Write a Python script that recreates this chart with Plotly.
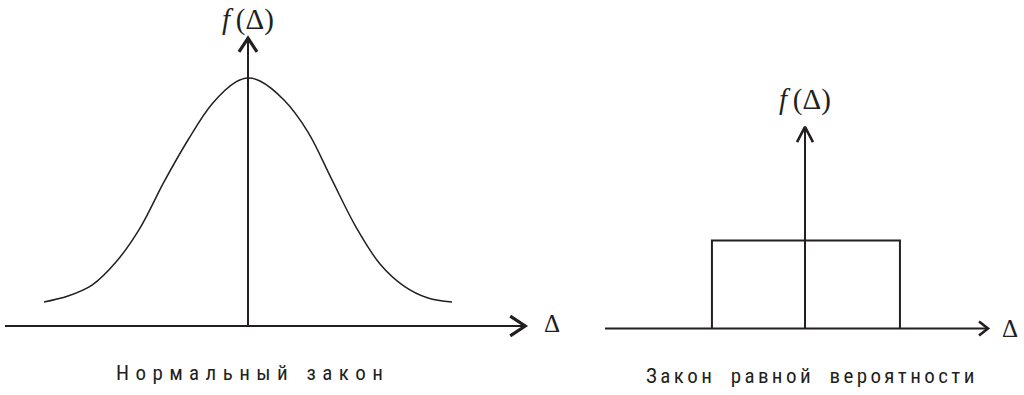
import plotly.graph_objects as go

# ---- data ----
# Left: normal law curve, Δ (arbitrary units) vs f(Δ) (peak = 1)
normal_delta = [-3.4, -3.0, -2.6, -2.2, -1.8, -1.4, -1.0, -0.6, -0.2, 0.0,
                0.2, 0.6, 1.0, 1.4, 1.8, 2.2, 2.6, 3.0, 3.4]
normal_f = [0.097, 0.121, 0.165, 0.258, 0.395, 0.581, 0.750, 0.895, 0.984, 1.0,
            0.988, 0.911, 0.782, 0.589, 0.399, 0.250, 0.161, 0.113, 0.097]

# Right: uniform law rectangle
uniform_delta = [-0.99, -0.99, 1.01, 1.01]
uniform_f = [0.0, 1.0, 1.0, 0.0]

axis_label_f = "<i>f</i>\u2009(Δ)"
axis_label_delta = "Δ"
caption_left = "Нормальный закон"
caption_right = "Закон равной вероятности"

INK = "#231f20"
W, H = 1024, 395


def spaced(s, letter_gap, word_gap):
    return word_gap.join(letter_gap.join(word) for word in s.split(" "))


fig = go.Figure()

# ---------------- left panel (x, y) ----------------
fig.add_trace(go.Scatter(x=normal_delta, y=normal_f, mode="lines",
                         line=dict(color=INK, width=1.5, shape="spline", smoothing=1.0),
                         xaxis="x", yaxis="y", hoverinfo="skip"))
# horizontal axis + arrow
fig.add_trace(go.Scatter(x=[-4.05, 4.62], y=[0, 0], mode="lines",
                         line=dict(color=INK, width=2), xaxis="x", yaxis="y", hoverinfo="skip"))
fig.add_trace(go.Scatter(x=[4.37, 4.62, 4.37], y=[0.040, 0, -0.040], mode="lines",
                         line=dict(color=INK, width=3.2), xaxis="x", yaxis="y", hoverinfo="skip"))
# vertical axis + arrow
fig.add_trace(go.Scatter(x=[0, 0], y=[0, 1.161], mode="lines",
                         line=dict(color=INK, width=2), xaxis="x", yaxis="y", hoverinfo="skip"))
fig.add_trace(go.Scatter(x=[-0.15, 0, 0.15], y=[1.105, 1.161, 1.105], mode="lines",
                         line=dict(color=INK, width=3.2), xaxis="x", yaxis="y", hoverinfo="skip"))

# ---------------- right panel (x2, y2) ----------------
fig.add_trace(go.Scatter(x=uniform_delta, y=uniform_f, mode="lines",
                         line=dict(color=INK, width=2), xaxis="x2", yaxis="y2", hoverinfo="skip"))
fig.add_trace(go.Scatter(x=[-2.128, 1.947], y=[0, 0], mode="lines",
                         line=dict(color=INK, width=2), xaxis="x2", yaxis="y2", hoverinfo="skip"))
fig.add_trace(go.Scatter(x=[1.851, 1.947, 1.851], y=[0.08, 0, -0.08], mode="lines",
                         line=dict(color=INK, width=2.6), xaxis="x2", yaxis="y2", hoverinfo="skip"))
fig.add_trace(go.Scatter(x=[0, 0], y=[0, 2.29], mode="lines",
                         line=dict(color=INK, width=2), xaxis="x2", yaxis="y2", hoverinfo="skip"))
fig.add_trace(go.Scatter(x=[-0.085, 0, 0.085], y=[2.119, 2.29, 2.119], mode="lines",
                         line=dict(color=INK, width=2.6), xaxis="x2", yaxis="y2", hoverinfo="skip"))

serif = "Liberation Serif"
delta_font = dict(family="Liberation Serif", size=25, color=INK)
cap_font = dict(family="Roboto Condensed", size=21, color=INK)
ann = [
    dict(x=0, y=(326 - 19) / 248, xref="x", yref="y", text=axis_label_f, showarrow=False,
         font=dict(family=serif, size=29, color=INK)),
    dict(x=5.07, y=0.012, xref="x", yref="y", text=axis_label_delta, showarrow=False, font=delta_font),
    dict(x=0, y=(328.5 - 99) / 88, xref="x2", yref="y2", text=axis_label_f, showarrow=False,
         font=dict(family=serif, size=29, color=INK)),
    dict(x=2.18, y=0.0, xref="x2", yref="y2", text=axis_label_delta, showarrow=False, font=delta_font),
    dict(x=249 / W, y=(H - 373) / H, xref="paper", yref="paper", xanchor="center", yanchor="middle",
         text=spaced(caption_left, "\u2004", "\u2002\u2002"), showarrow=False, font=cap_font),
    dict(x=810 / W, y=(H - 376) / H, xref="paper", yref="paper", xanchor="center", yanchor="middle",
         text=spaced(caption_right, "\u2006", "\u2002\u2002"), showarrow=False, font=cap_font),
]

hidden = dict(visible=False, showgrid=False, zeroline=False, fixedrange=True)
fig.update_layout(
    width=W, height=H,
    margin=dict(l=0, r=0, t=0, b=0),
    paper_bgcolor="white", plot_bgcolor="white",
    showlegend=False,
    xaxis=dict(domain=[0, 580 / W], range=[-248 / 60, (580 - 248) / 60], **hidden),
    yaxis=dict(domain=[0, 1], range=[(326 - 395) / 248, 326 / 248], **hidden),
    xaxis2=dict(domain=[580 / W, 1], range=[(580 - 805) / 94, (1024 - 805) / 94], anchor="y2", **hidden),
    yaxis2=dict(domain=[0, 1], range=[(328.5 - 395) / 88, 328.5 / 88], anchor="x2", **hidden),
    annotations=ann,
)

fig.write_html("out.html", config={"displayModeBar": False})
